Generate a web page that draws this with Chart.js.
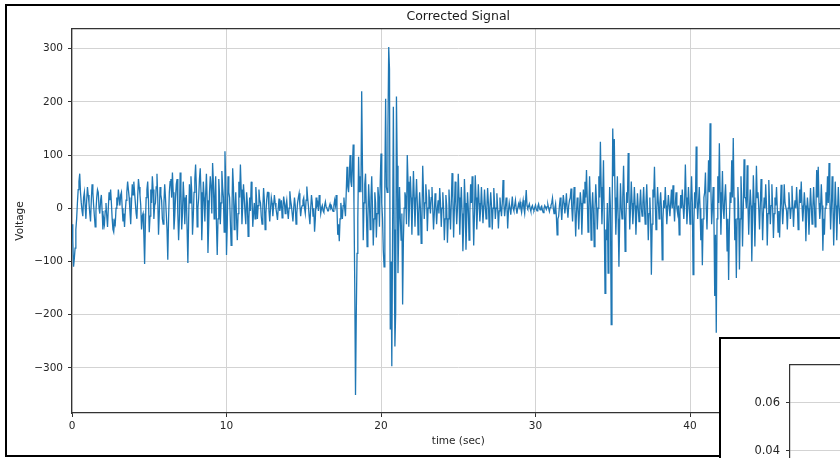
<!DOCTYPE html>
<html>
<head>
<meta charset="utf-8">
<title>Corrected Signal</title>
<script src="https://cdn.jsdelivr.net/npm/chart.js@4/dist/chart.umd.min.js"></script>
<style>
  html, body { margin: 0; padding: 0; background: #fff; width: 840px; height: 458px; overflow: hidden; }
  #signalChart { position: absolute; left: 0; top: 0; }
  #frame { position: absolute; left: 5px; top: 4px; width: 900px; height: 449px; border: 2px solid #000; }
  #insetBox { position: absolute; left: 719px; top: 337px; width: 200px; height: 200px; border: 2px solid #000; background: #fff; }
  #insetChart { position: absolute; left: 0; top: 0; }
</style>
</head>
<body>
<canvas id="signalChart" width="860" height="458"></canvas>
<div id="frame"></div>
<div id="insetBox"><canvas id="insetChart" width="200" height="200"></canvas></div>
<script>
// corrected signal, one sample every 0.05 s, one row per second
const sampleStep = 0.05;

const volts00to10 = [
  -30, -60, -110, -95, -75, -40, -20, 10, 35, 50, 65, 30, 10, -5, -15, 20, 30, 5, -20, 15,
  40, 25, 10, -10, -25, 15, 45, 30, 5, -15, -35, -5, 20, 35, 30, 0, -10, 15, 25, -5,
  -40, -20, -30, -5, 10, -15, -35, 0, 30, 15, 35, 10, -20, -40, -45, -25, -30, 0, 20, 5,
  35, 20, 5, 25, 30, 0, -25, -10, -35, -5, 15, 30, 50, 35, 20, -5, -30, 10, 45, 25,
  50, 30, 10, -10, -20, 20, 55, 40, 25, 5, -40, -15, -10, -50, -105, -30, 20, 35, 50, 15,
  -45, -15, 35, 10, 60, 35, -20, 5, 10, 40, 65, 20, -50, -10, 40, 25, 15, -20, -30, 10,
  45, 20, -10, -40, -97, -20, 30, 50, 55, 20, 67, 30, -40, -15, 20, 45, 55, -10, -60, -20,
  67, 35, -40, -10, 50, 20, -30, 10, 25, -40, -103, -20, 45, 10, 60, 30, -50, -15, 30, 55,
  82, 40, -35, 0, 20, 55, 75, 30, -60, -10, 50, 20, -25, 25, 65, 15, -84, -30, 30, 60,
  40, -10, 85, 50, -20, 20, 60, -30, -88, -20, 55, 25, -30, 10, 70, 40, 20, -45, 107, 50
];
const volts10to20 = [
  -88, -30, 60, 30, 20, -25, -70, -10, 75, 40, -40, 0, 30, -20, -60, -10, 50, 20, 82, 35,
  -30, 5, 45, 20, -10, -30, 30, 10, -53, -20, 20, -5, 50, 25, -35, -10, 10, -20, 40, 15,
  -20, 5, 35, 15, 10, -15, -30, 0, 38, 15, -40, -10, 15, 30, 30, -5, -25, 0, 20, 10,
  -15, 5, 25, 10, 0, -10, -22, 0, 18, -5, 5, 15, -18, 0, 22, 10, -10, 5, 15, -5,
  -20, 0, 32, 15, 5, -10, -25, 0, 20, 5, -30, -10, 10, 20, 28, 5, -15, 0, 5, 15,
  20, 0, -10, 15, 41, 20, 5, -15, -30, 0, 25, 10, -15, 0, -44, -20, 20, 5, 10, -5,
  25, 10, -10, 0, 5, -5, -8, 5, 12, 2, 0, -5, -5, 3, 8, 0, 3, -3, -6, 5,
  15, 5, 25, 0, -50, -30, -62, -20, 10, -5, -20, 5, 20, 0, -15, 30, 78, 40, 30, 60,
  100, 50, 40, 80, 120, 10, -140, -351, -200, -85, -20, 97, 30, 60, 30, 220, 80, -60, 10, 45,
  65, 0, -72, -20, 45, 10, -40, 20, 60, 0, -70, -20, 30, 10, -55, -10, 40, 20, -35, 50
];
const volts20to30 = [
  103, 10, -20, -80, -110, 50, 206, 40, 30, 150, 303, 262, -228, -100, -297, -50, 191, -40, -260, -195,
  210, 80, -122, -40, 40, -20, -60, -10, -181, -60, 0, 30, 20, -30, 100, 50, -35, 10, 60, 20,
  -50, 10, 70, 20, -35, 15, 55, 10, -50, -10, 30, 0, -66, -20, 80, 30, -20, 10, 45, 20,
  -43, 0, 35, 10, -10, 20, 40, 0, -40, -10, 28, 5, -30, 0, 15, -10, 38, 10, -35, 0,
  30, 0, -60, -20, 25, 5, -65, -20, 35, 0, -40, 10, 66, 20, -55, 0, 50, 10, -30, 0,
  65, 20, -50, 0, 40, -10, -81, -30, 55, 10, -78, -20, 30, 0, -60, -10, 45, 10, 60, 0,
  -70, -10, 62, 20, -40, 0, 45, 10, -25, 0, 40, 5, -28, 0, 35, 5, -20, 0, 38, 10,
  -35, 0, 30, 5, -40, 0, 38, 10, -20, 0, 28, 0, -38, -5, 20, 0, -15, 10, 53, 10,
  -15, 0, 20, 5, -38, -5, 10, 0, -12, 5, 22, 0, -5, 5, 15, 0, -10, 0, 8, 2,
  12, 0, -8, 5, 15, 0, -10, 10, 34, 5, 0, 3, 8, 0, -6, 2, 5, -2, -4, 1
];
const volts30to40 = [
  6, -2, -5, 3, 8, 0, -3, 2, 4, -4, -8, 0, 5, 2, -2, 3, 7, 0, -6, 1,
  5, 10, 19, 0, -10, 0, 8, -15, -50, -20, -15, 5, 20, 0, -22, 5, 25, 10, -10, 5,
  28, 0, -18, 5, 15, 20, 37, 0, -25, 10, 40, 0, -53, -10, 20, 0, -40, 0, 30, 10,
  -50, 0, 35, 10, 50, 20, 72, 20, -45, 0, 60, 10, -60, 0, 30, -10, -72, 0, 45, 10,
  -40, 0, 60, 20, 125, 40, -30, 20, 90, -20, -160, -40, -60, 10, -122, -30, 40, 0, -219, -50,
  150, 60, 130, 20, -50, 0, 60, -20, -110, -20, 47, 0, -20, 20, 80, 10, -81, -20, 30, 10,
  104, 30, -40, 0, 50, 10, -30, 0, 40, 5, -50, -10, 28, 0, -25, 5, 35, 0, -15, 10,
  40, 0, -30, 10, 45, 0, -60, -10, 20, -20, -125, -30, 35, 20, 78, 10, -40, 0, 40, 10,
  -20, 10, 30, 0, -97, -20, 15, 0, 40, 5, -30, 0, 25, 5, -15, 10, 35, 0, 43, 5,
  -25, 10, 30, 0, -10, 5, -50, -10, 25, 0, 35, 5, -20, 10, 82, 20, -30, 0, 40, 5
];
const volts40to50 = [
  -30, 10, 60, 10, -125, -30, 30, 0, 116, 20, -20, 10, 40, 0, -60, -20, -107, -20, 20, 30,
  67, 0, -40, 20, 90, 30, 160, 40, -30, 0, 40, -20, -165, -50, -234, -20, 60, 10, 122, 30,
  -50, 10, 70, 0, -20, 20, 45, 0, -80, -20, -135, -30, 30, 10, 90, 20, 132, 20, -60, -20,
  -131, -20, 40, 0, -115, -20, 60, 10, -72, 0, 92, 20, 20, 0, 81, 10, -50, 0, 35, 5,
  -100, -20, 62, 10, -72, 0, 80, 20, 30, 0, -40, 5, 55, 10, -60, -10, 20, 0, 45, 5,
  -70, -10, 53, 10, -30, 5, 45, 0, -56, -10, 20, 5, 40, 0, -45, -5, -55, 0, 44, 5,
  -30, 0, 45, 10, 10, -5, -40, 0, 30, 5, -20, 0, 42, 5, -35, 0, 15, 0, 40, 5,
  -40, 0, 35, 10, 50, 5, -25, 0, 30, 5, -62, -10, 20, 0, -50, -5, 38, 5, -30, 0,
  40, 5, -35, 0, 72, 20, 78, 10, -20, 0, 45, 5, -80, -20, -50, 0, 30, 5, 60, 10,
  85, 20, -40, 0, 60, 10, -70, -10, 50, 5, -60, -5, 40, 0, -30, 5, 55, 5, -45, 0,
  20
];

const timeTicks = [0, 10, 20, 30, 40, 50];
const voltTicks = [-300, -200, -100, 0, 100, 200, 300];
const insetTicks = [0.04, 0.06];

const voltage = [].concat(volts00to10, volts10to20, volts20to30, volts30to40, volts40to50);
const points = voltage.map((v, i) => ({ x: +(i * sampleStep).toFixed(2), y: v }));

Chart.defaults.font.family = "'DejaVu Sans', sans-serif";
Chart.defaults.color = '#262626';

const axisColor = '#333';
const gridColor = '#d3d3d3';
const minus = v => String(v).replace('-', '\u2212');

new Chart(document.getElementById('signalChart'), {
  type: 'line',
  data: {
    datasets: [{
      data: points,
      borderColor: '#1f77b4',
      borderWidth: 1.3,
      pointRadius: 0,
      tension: 0,
      fill: false
    }]
  },
  options: {
    responsive: false,
    animation: false,
    parsing: false,
    layout: { padding: { left: 0, right: 15.5, top: 0, bottom: 0 } },
    plugins: { legend: { display: false }, tooltip: { enabled: false } },
    scales: {
      x: {
        type: 'linear',
        position: 'bottom',
        min: 0,
        max: 50,
        afterBuildTicks: s => { s.ticks = timeTicks.map(v => ({ value: v })); },
        afterFit: s => { s.height = 45; },
        ticks: { font: { size: 10.5 }, padding: 3, maxRotation: 0 },
        grid: { color: gridColor, lineWidth: 1, tickColor: axisColor, tickLength: 4 },
        border: { color: axisColor, width: 1.2 },
        title: { display: true, text: 'time (sec)', font: { size: 10.5 }, padding: { top: 0, bottom: 10.5 } }
      },
      xTop: {
        type: 'linear',
        position: 'top',
        min: 0,
        max: 50,
        afterFit: s => { s.height = 29; },
        ticks: { display: false },
        grid: { display: false },
        border: { color: axisColor, width: 1.2 },
        title: { display: true, text: 'Corrected Signal', color: '#1a1a1a', font: { size: 12.5 }, padding: { top: 9.5, bottom: 0 } }
      },
      y: {
        min: -385,
        max: 337,
        afterBuildTicks: s => { s.ticks = voltTicks.map(v => ({ value: v })); },
        afterFit: s => { s.width = 72; },
        ticks: { font: { size: 10.5 }, padding: 5, callback: minus },
        grid: { color: gridColor, lineWidth: 1, tickColor: axisColor, tickLength: 4 },
        border: { color: axisColor, width: 1.2 },
        title: { display: true, text: 'Voltage', font: { size: 10.5 }, padding: { top: 13.5, bottom: 0 } }
      }
    }
  }
});

// second figure peeking in at the lower right corner
new Chart(document.getElementById('insetChart'), {
  type: 'line',
  data: { datasets: [] },
  options: {
    responsive: false,
    animation: false,
    layout: { padding: { left: 0, right: 0, top: 0, bottom: 40.3 } },
    plugins: { legend: { display: false }, tooltip: { enabled: false } },
    scales: {
      x: {
        type: 'linear',
        position: 'top',
        min: 0,
        max: 1,
        afterFit: s => { s.height = 26; },
        ticks: { display: false },
        grid: { display: false },
        border: { color: axisColor, width: 1.2 }
      },
      y: {
        min: 0.02,
        max: 0.0757,
        afterBuildTicks: s => { s.ticks = insetTicks.map(v => ({ value: v })); },
        afterFit: s => { s.width = 69; },
        ticks: { font: { size: 11.5 }, padding: 6, callback: v => v.toFixed(2) },
        grid: { color: gridColor, lineWidth: 1, tickColor: axisColor, tickLength: 4 },
        border: { color: axisColor, width: 1.2 }
      }
    }
  }
});
</script>
</body>
</html>
